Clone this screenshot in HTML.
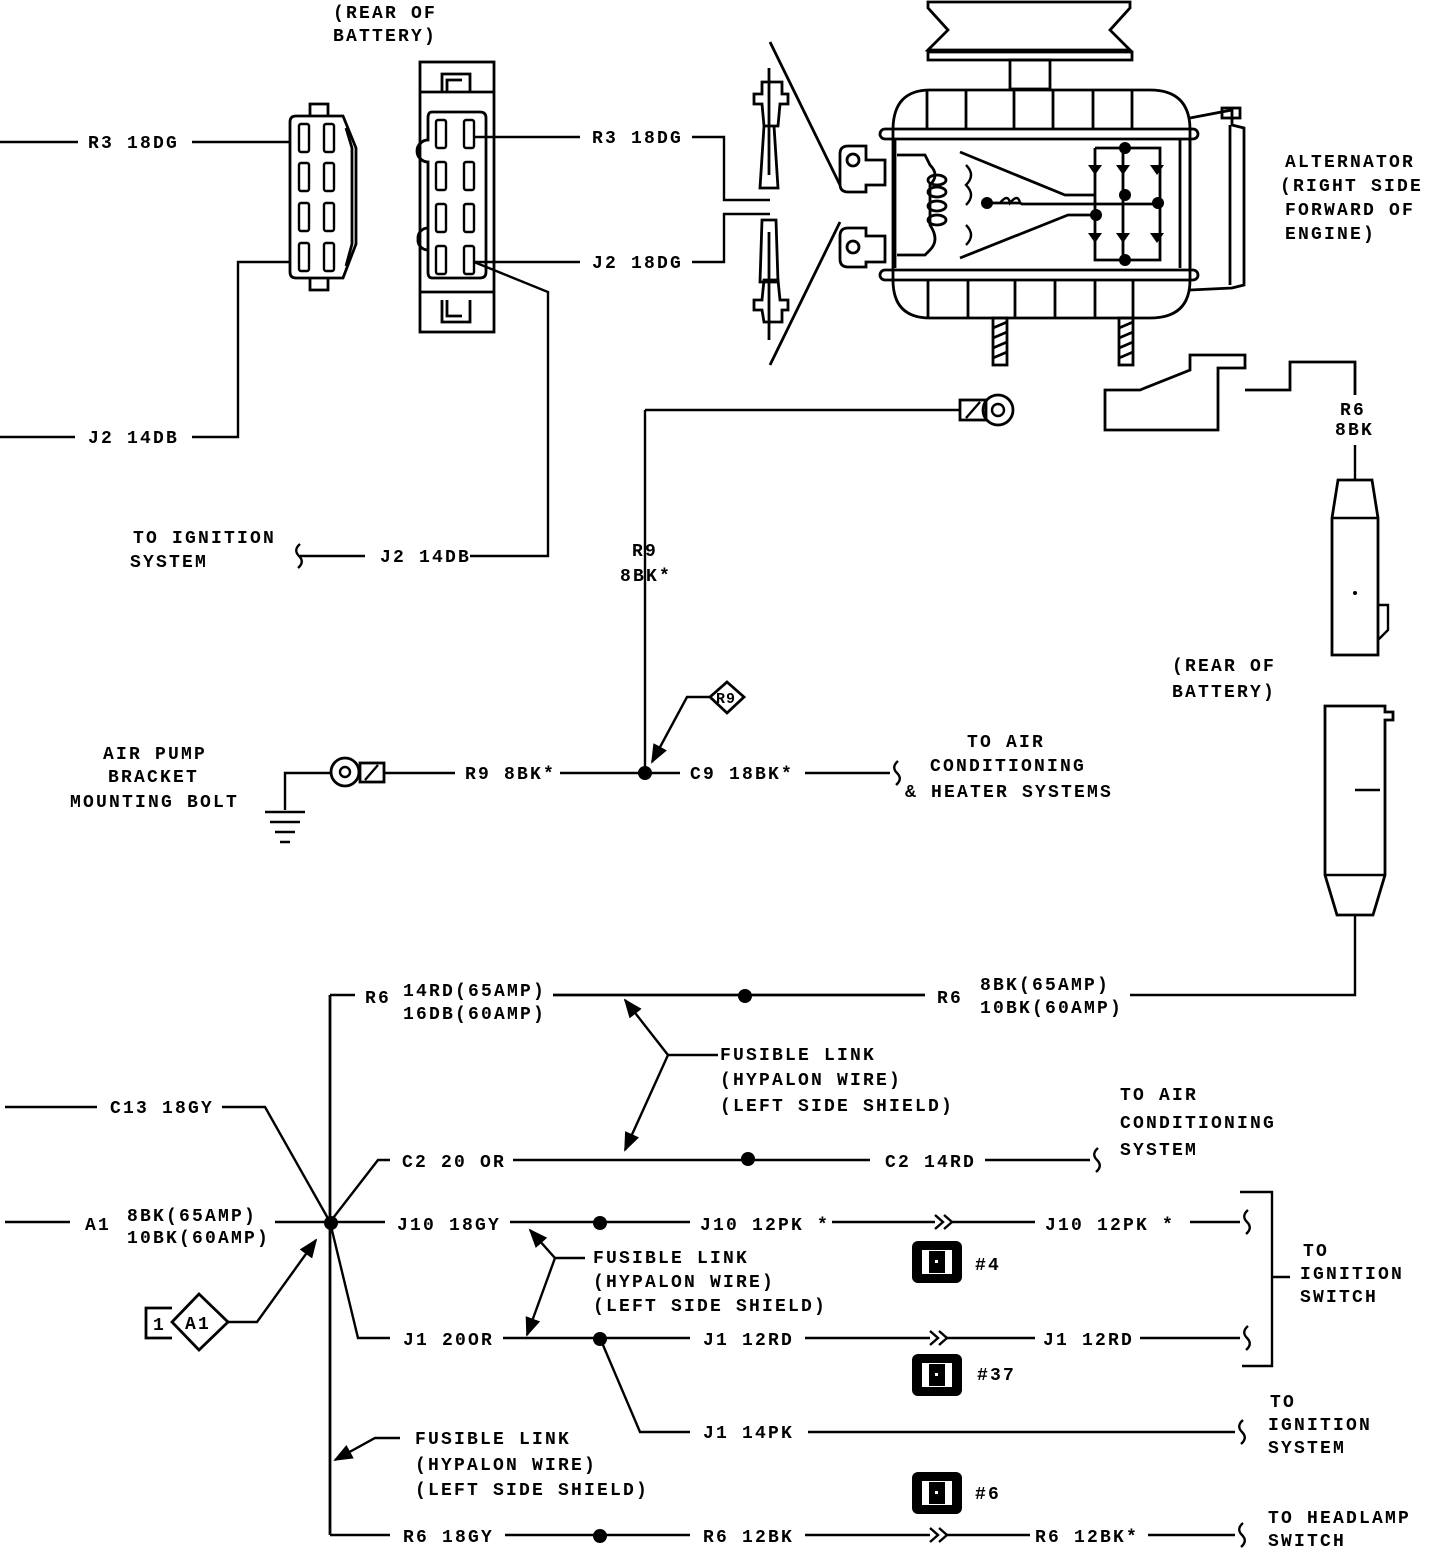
<!DOCTYPE html>
<html><head><meta charset="utf-8"><style>
body{margin:0;background:#fff}
svg{display:block}
text{font-family:"Liberation Mono",monospace;font-size:18px;letter-spacing:2.2px;fill:#000;font-weight:bold}
.l{stroke:#000;stroke-width:2.4;fill:none}
.t{stroke:#000;stroke-width:2.8;fill:none}
</style></head><body>
<svg width="1440" height="1554" viewBox="0 0 1440 1554" xmlns="http://www.w3.org/2000/svg">
<defs>
<marker id="ar" viewBox="0 0 10 10" refX="9" refY="5" markerWidth="8" markerHeight="8" orient="auto"><path d="M0,1 L10,5 L0,9 z" fill="#000"/></marker>
<g id="sq"><path d="M0,-12 q-7,6 -1,12 q6,6 -1,12" class="l"/></g>
<g id="dd"><path d="M0,-7 l8,7 l-8,7 M9,-7 l8,7 l-8,7" class="l"/></g>
<g id="ic"><rect x="0" y="0" width="50" height="42" rx="6" fill="#000"/><rect x="10" y="9" width="30" height="24" fill="#fff"/><rect x="17" y="10" width="16" height="22" fill="#000"/><rect x="23" y="19" width="3" height="3" fill="#fff"/></g>
</defs>

<text x="333" y="18">(REAR OF</text><text x="333" y="41">BATTERY)</text>
<path class="l" d="M0,142H78M192,142H290"/><text x="88" y="148">R3 18DG</text>
<path class="l" d="M0,437H75M192,437H238V262H290"/><text x="88" y="443">J2 14DB</text>

<path class="t" d="M296,116 H343 L356,148 V244 L343,278 H296 Q290,278 290,272 V122 Q290,116 296,116Z"/>
<path class="t" d="M310,116V104H328V116M310,278V290H328V278M346,128 L352,148 V244 L346,266"/>
<g class="l">
<rect x="299" y="124" width="10" height="28" rx="2"/><rect x="324" y="124" width="10" height="28" rx="2"/>
<rect x="299" y="163" width="10" height="28" rx="2"/><rect x="324" y="163" width="10" height="28" rx="2"/>
<rect x="299" y="203" width="10" height="28" rx="2"/><rect x="324" y="203" width="10" height="28" rx="2"/>
<rect x="299" y="243" width="10" height="28" rx="2"/><rect x="324" y="243" width="10" height="28" rx="2"/>
</g>
<rect class="t" x="420" y="62" width="74" height="270"/>
<path class="t" d="M420,92H494M420,292H494M442,92V74H470V92M447,92V80H462M442,300V322H470V300M447,300V316H462"/>
<path class="t" d="M432,112H480Q486,112 486,118V272Q486,278 480,278H432Q428,278 428,272V162 a10,10 0 0 1 0,-22 V118Q428,112 432,112Z"/>
<path class="t" d="M428,162 a10,10 0 0 1 -10,-11 a10,10 0 0 1 10,-11 M428,250 a10,10 0 0 1 -10,-11 a10,10 0 0 1 10,-11"/>
<g class="l">
<rect x="436" y="120" width="10" height="28" rx="2"/><rect x="464" y="120" width="10" height="28" rx="2"/>
<rect x="436" y="162" width="10" height="28" rx="2"/><rect x="464" y="162" width="10" height="28" rx="2"/>
<rect x="436" y="204" width="10" height="28" rx="2"/><rect x="464" y="204" width="10" height="28" rx="2"/>
<rect x="436" y="246" width="10" height="28" rx="2"/><rect x="464" y="246" width="10" height="28" rx="2"/>
</g>
<path class="l" d="M474,137H580M692,137H724V200H770"/><text x="592" y="143">R3 18DG</text>
<path class="l" d="M474,262H580M692,262H724V214H770"/><text x="592" y="268">J2 18DG</text>
<path class="l" d="M474,262L548,292V556H470M300,556H365"/><text x="380" y="562">J2 14DB</text>
<use href="#sq" x="300" y="556"/>
<text x="133" y="543">TO IGNITION</text><text x="130" y="567">SYSTEM</text>

<g class="t">
<path d="M770,42L840,185M770,365L840,222"/>
<path d="M762,82H782V94H788V104H780L778,126H764L762,104H754V94H762Z"/>
<path d="M764,126L760,188H778L774,126"/>
<path d="M764,322H782V310H788V300H780L778,280H764L762,300H754V310H762Z"/>
<path d="M762,220L760,282H778L776,220Z"/>
<path d="M769,68V175M769,232V340"/>
</g>
<g class="t">
<path d="M928,2H1130V8L1110,30L1130,50H928V50L948,30L928,8Z"/><path d="M928,52H1132V60H928Z"/>
<rect x="1010" y="60" width="40" height="29"/>
<path d="M930,90H1150Q1190,90 1190,130V280Q1190,318 1150,318H930Q893,318 893,280V130Q893,90 930,90Z"/>
<path d="M927,90V129M966,90V129M1014,90V129M1053,90V129M1093,90V129M1132,90V129"/>
<path d="M928,281V318M968,281V318M1015,281V318M1055,281V318M1095,281V318M1133,281V318"/>
<rect x="880" y="129" width="318" height="10" rx="5"/><rect x="880" y="270" width="318" height="10" rx="5"/>
<path d="M895,140V268M1180,140V268M1190,140V268"/>
<path d="M1190,118L1232,110V125L1244,128V285L1232,288L1190,290"/>
<path d="M1230,125V285"/><rect x="1222" y="108" width="18" height="10"/>
<path d="M848,146H866V160H885V185H866V192H848Q840,192 840,184V154Q840,146 848,146Z"/>
<path d="M848,228H866V236H885V262H866V267H848Q840,267 840,259V236Q840,228 848,228Z"/>
<circle cx="853" cy="160" r="6"/><circle cx="853" cy="247" r="6"/>
<path d="M897,155H925L930,165Q940,175 930,185V225Q940,240 930,250L925,255H897"/>
<ellipse cx="937" cy="180" rx="9" ry="5"/><ellipse cx="937" cy="192" rx="9" ry="5"/><ellipse cx="937" cy="206" rx="9" ry="5"/><ellipse cx="937" cy="220" rx="9" ry="5"/>
<path d="M960,152L1065,195H1095M960,258L1068,215H1095"/>
<path d="M985,203H1020L1022,204H1160"/>
<path d="M1095,148V260H1160V148H1095M1123,148V260"/>
<rect x="993" y="318" width="14" height="47"/><rect x="1119" y="318" width="14" height="47"/>
<path d="M993,328L1007,322M993,338L1007,332M993,348L1007,342M993,358L1007,352M1119,328L1133,322M1119,338L1133,332M1119,348L1133,342M1119,358L1133,352"/>
<path d="M1105,390H1140L1190,370V355H1245V368H1218V430H1105Z"/>
<path d="M1245,390H1290V362H1355V395"/>
</g>
<g fill="#000">
<path d="M1088,165h14l-7,10z M1116,165h14l-7,10z M1150,165h14l-7,10z M1088,233h14l-7,10z M1116,233h14l-7,10z M1150,233h14l-7,10z"/>
<circle cx="1125" cy="148" r="6"/><circle cx="1125" cy="195" r="6"/><circle cx="1096" cy="215" r="6"/><circle cx="1158" cy="203" r="6"/><circle cx="1125" cy="260" r="6"/><circle cx="987" cy="203" r="6"/>
</g>
<path class="l" d="M966,165q10,10 0,20q10,10 0,20M1000,203q8,-10 10,0q8,-10 10,0M966,225q10,10 0,20"/>
<text x="1285" y="167">ALTERNATOR</text><text x="1280" y="191">(RIGHT SIDE</text><text x="1285" y="215">FORWARD OF</text><text x="1285" y="239">ENGINE)</text>

<path class="l" d="M645,410H960M645,410V773"/>
<rect class="t" x="960" y="400" width="26" height="20"/><path class="l" d="M966,418L980,402"/>
<circle class="t" cx="998" cy="410" r="15"/><circle class="l" cx="998" cy="410" r="6"/>
<text x="632" y="556">R9</text><text x="620" y="581">8BK*</text>
<path class="t" d="M727,682L744,697L727,713L710,697Z"/><text x="716" y="703" style="font-size:15px;letter-spacing:1px">R9</text>
<path class="l" d="M710,697H687L652,762" marker-end="url(#ar)"/>
<text x="103" y="759">AIR PUMP</text><text x="108" y="782">BRACKET</text><text x="70" y="807">MOUNTING BOLT</text>
<path class="l" d="M330,773H285V810M265,812H305M270,822H300M275,832H295M280,842H290"/>
<circle class="t" cx="345" cy="772" r="14"/><circle class="l" cx="345" cy="772" r="5"/>
<rect class="t" x="360" y="763" width="24" height="19"/><path class="l" d="M365,780L378,765"/>
<path class="l" d="M384,773H455M560,773H680M805,773H890"/>
<text x="465" y="779">R9 8BK*</text><text x="690" y="779">C9 18BK*</text>
<circle cx="645" cy="773" r="7"/>
<use href="#sq" x="898" y="773"/>
<text x="967" y="747">TO AIR</text><text x="930" y="771">CONDITIONING</text><text x="905" y="797">&amp; HEATER SYSTEMS</text>

<text x="1340" y="415">R6</text><text x="1335" y="435">8BK</text>
<path class="l" d="M1355,445V480"/>
<path class="t" d="M1338,480H1372L1378,518V655H1332V518Z"/><path class="l" d="M1332,518H1378M1378,605H1388V630L1378,640"/>
<circle cx="1355" cy="593" r="2" fill="#000"/>
<text x="1172" y="671">(REAR OF</text><text x="1172" y="697">BATTERY)</text>
<path class="t" d="M1325,706H1385V712H1393V720H1385V875L1373,915H1337L1325,875Z"/><path class="l" d="M1325,875H1385M1355,790H1380"/>
<path class="l" d="M1355,915V995H1130"/>

<path class="t" d="M330,995V1535"/>
<path class="l" d="M330,995H355"/><text x="365" y="1003">R6</text>
<text x="403" y="996">14RD(65AMP)</text><text x="403" y="1019">16DB(60AMP)</text>
<path class="t" d="M553,995H925"/><circle cx="745" cy="996" r="7"/>
<text x="937" y="1003">R6</text><text x="980" y="990">8BK(65AMP)</text><text x="980" y="1013">10BK(60AMP)</text>
<path class="l" d="M718,1055H668L625,1000" marker-end="url(#ar)"/><path class="l" d="M668,1055L625,1150" marker-end="url(#ar)"/>
<text x="720" y="1060">FUSIBLE LINK</text><text x="720" y="1085">(HYPALON WIRE)</text><text x="720" y="1111">(LEFT SIDE SHIELD)</text>

<path class="l" d="M5,1107H97M222,1107H265L330,1222"/><text x="110" y="1113">C13 18GY</text>
<path class="l" d="M330,1222L378,1160H390M513,1160H870M985,1160H1090"/><text x="402" y="1167">C2 20 OR</text><circle cx="748" cy="1159" r="7"/>
<text x="885" y="1167">C2 14RD</text><use href="#sq" x="1098" y="1160"/>
<text x="1120" y="1100">TO AIR</text><text x="1120" y="1128">CONDITIONING</text><text x="1120" y="1155">SYSTEM</text>

<path class="l" d="M5,1222H70M275,1222H385"/><text x="85" y="1230">A1</text>
<text x="127" y="1221">8BK(65AMP)</text><text x="127" y="1243">10BK(60AMP)</text>
<circle cx="331" cy="1223" r="7"/>
<text x="397" y="1230">J10 18GY</text>
<path class="l" d="M510,1222H690M832,1222H935M952,1222H1035M1190,1222H1240"/><circle cx="600" cy="1223" r="7"/>
<text x="700" y="1230">J10 12PK *</text><use href="#dd" x="935" y="1222"/><text x="1045" y="1230">J10 12PK *</text>
<use href="#sq" x="1248" y="1222"/>
<use href="#ic" x="912" y="1241"/><text x="975" y="1270">#4</text>
<use href="#ic" x="912" y="1354"/><text x="977" y="1380">#37</text>
<use href="#ic" x="912" y="1472"/><text x="975" y="1499">#6</text>

<path class="l" d="M585,1258H555L530,1230" marker-end="url(#ar)"/><path class="l" d="M555,1258L527,1335" marker-end="url(#ar)"/>
<text x="593" y="1263">FUSIBLE LINK</text><text x="593" y="1287">(HYPALON WIRE)</text><text x="593" y="1311">(LEFT SIDE SHIELD)</text>

<path class="l" d="M330,1222L358,1338H390M503,1338H690M805,1338H930M947,1338H1035M1140,1338H1240"/>
<text x="403" y="1345">J1 20OR</text><circle cx="600" cy="1339" r="7"/><text x="703" y="1345">J1 12RD</text>
<use href="#dd" x="930" y="1338"/><text x="1043" y="1345">J1 12RD</text><use href="#sq" x="1248" y="1338"/>
<path class="l" d="M1240,1192H1272V1366H1242M1272,1277H1290"/>
<text x="1303" y="1256">TO</text><text x="1300" y="1279">IGNITION</text><text x="1300" y="1302">SWITCH</text>

<path class="l" d="M600,1338L640,1432H690M808,1432H1235"/><text x="703" y="1438">J1 14PK</text><use href="#sq" x="1243" y="1432"/>
<text x="1270" y="1407">TO</text><text x="1268" y="1430">IGNITION</text><text x="1268" y="1453">SYSTEM</text>

<path class="l" d="M400,1438H375L335,1460" marker-end="url(#ar)"/>
<text x="415" y="1444">FUSIBLE LINK</text><text x="415" y="1470">(HYPALON WIRE)</text><text x="415" y="1495">(LEFT SIDE SHIELD)</text>

<path class="l" d="M330,1535H390M505,1535H690M805,1535H930M947,1535H1030M1148,1535H1235"/>
<text x="403" y="1542">R6 18GY</text><circle cx="600" cy="1536" r="7"/><text x="703" y="1542">R6 12BK</text>
<use href="#dd" x="930" y="1535"/><text x="1035" y="1542">R6 12BK*</text><use href="#sq" x="1243" y="1535"/>
<text x="1268" y="1523">TO HEADLAMP</text><text x="1268" y="1546">SWITCH</text>

<path class="t" d="M172,1308H146V1338H172"/><text x="153" y="1330">1</text>
<path class="t" d="M199,1294L228,1322L199,1350L172,1322Z"/><text x="185" y="1329">A1</text>
<path class="l" d="M228,1322H257L316,1240" marker-end="url(#ar)"/>
</svg>
</body></html>
